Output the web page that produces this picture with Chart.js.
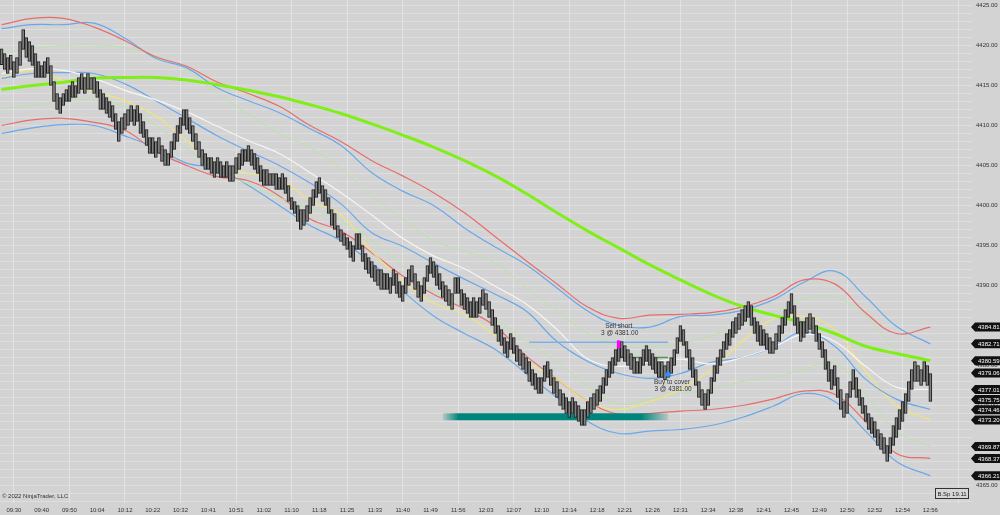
<!DOCTYPE html>
<html>
<head>
<meta charset="utf-8">
<script src="https://cdn.jsdelivr.net/npm/chart.js@4.4.1/dist/chart.umd.min.js"></script>
<style>
    html, body { margin: 0; padding: 0; background: #d3d3d3; }
    #wrap { position: relative; width: 1000px; height: 515px; }
</style>
</head>
<body>
<div id="wrap"><canvas id="myChart"></canvas></div>
<script>
const timeLabels = ['09:30', '09:40', '09:50', '10:04', '10:12', '10:22', '10:32', '10:41', '10:51', '11:02', '11:10', '11:18',
    '11:25', '11:33', '11:40', '11:49', '11:56', '12:03', '12:07', '12:10', '12:14', '12:18', '12:21', '12:26',
    '12:31', '12:34', '12:38', '12:41', '12:45', '12:49', '12:50', '12:52', '12:54', '12:56'];

// tick bars: high / low
const barHigh = [
    4419.6, 4419.0, 4418.5, 4418.8, 4418.0, 4418.5, 4420.5, 4422.0, 4421.0, 4420.5,
    4420.0, 4419.0, 4418.0, 4417.5, 4418.0, 4418.5, 4417.5, 4415.5, 4414.0, 4413.5,
    4414.0, 4414.5, 4415.0, 4415.5, 4415.0, 4416.0, 4416.5, 4416.0, 4416.5, 4416.0,
    4416.0, 4415.5, 4414.5, 4414.0, 4413.5, 4413.0, 4412.5, 4411.5, 4410.5, 4411.0,
    4411.5, 4412.0, 4412.5, 4412.0, 4412.5, 4411.5, 4410.5, 4409.5, 4408.5, 4408.5,
    4408.0, 4408.5, 4407.5, 4407.0, 4406.5, 4408.0, 4409.0, 4410.0, 4411.0, 4412.0,
    4412.0, 4411.0, 4410.0, 4409.0, 4408.0, 4407.0, 4406.5, 4406.0, 4406.0, 4405.5,
    4406.0, 4405.5, 4405.0, 4405.5, 4405.0, 4405.0, 4406.0, 4406.5, 4407.0, 4407.0,
    4407.5, 4407.0, 4406.5, 4406.0, 4405.0, 4404.5, 4404.5, 4404.0, 4404.0, 4404.0,
    4403.5, 4404.0, 4403.5, 4402.5, 4401.0, 4400.5, 4400.0, 4399.5, 4399.5, 4400.0,
    4401.0, 4402.0, 4403.0, 4403.5, 4402.5, 4402.0, 4401.0, 4399.5, 4399.0, 4397.5,
    4397.0, 4396.5, 4396.0, 4395.5, 4395.0, 4396.5, 4396.5, 4395.0, 4394.0, 4393.5,
    4393.0, 4392.5, 4392.0, 4392.0, 4391.5, 4391.5, 4391.0, 4392.0, 4391.5, 4390.5,
    4390.0, 4391.0, 4392.0, 4392.5, 4391.5, 4390.5, 4390.0, 4391.0, 4392.5, 4393.5,
    4393.0, 4392.5, 4391.5, 4390.5, 4390.0, 4389.5, 4389.0, 4391.0, 4391.0, 4389.5,
    4389.0, 4388.5, 4388.0, 4388.5, 4388.0, 4388.5, 4389.5, 4389.0, 4388.0, 4387.0,
    4386.0, 4385.0, 4384.5, 4383.5, 4383.0, 4384.0, 4383.5, 4382.5, 4382.0, 4381.5,
    4381.0, 4380.5, 4379.5, 4379.0, 4378.5, 4378.5, 4380.0, 4380.5, 4379.5, 4378.5,
    4378.0, 4377.0, 4376.5, 4376.0, 4375.5, 4376.0, 4375.5, 4375.0, 4374.5, 4374.5,
    4375.5, 4376.0, 4376.5, 4377.0, 4377.5, 4378.5, 4379.5, 4380.5, 4381.0, 4382.0,
    4382.5, 4383.0, 4382.5, 4382.0, 4381.5, 4381.0, 4380.5, 4381.0, 4382.0, 4382.5,
    4382.0, 4381.5, 4381.0, 4380.5, 4380.5, 4380.0, 4380.5, 4381.0, 4382.0, 4383.5,
    4385.0, 4384.5, 4383.0, 4382.0, 4381.0, 4379.5, 4378.0, 4377.0, 4376.5, 4377.0,
    4378.5, 4380.0, 4381.0, 4382.0, 4383.0, 4384.0, 4384.5, 4385.5, 4386.0, 4386.5,
    4387.0, 4387.5, 4388.0, 4387.5, 4386.0, 4385.5, 4385.0, 4384.5, 4384.0, 4383.5,
    4383.0, 4384.0, 4385.0, 4386.0, 4387.0, 4388.0, 4389.0, 4387.5, 4386.0, 4385.5,
    4385.5, 4386.0, 4386.5, 4386.0, 4385.0, 4384.0, 4383.0, 4382.0, 4380.5, 4379.5,
    4380.0, 4378.5, 4377.0, 4375.5, 4376.5, 4378.0, 4379.5, 4378.5, 4377.0, 4376.0,
    4375.0, 4374.0, 4373.5, 4373.0, 4372.0, 4371.5, 4371.0, 4370.0, 4371.0, 4372.5,
    4373.5, 4374.5, 4375.5, 4376.5, 4378.0, 4379.5, 4380.5, 4380.0, 4379.5, 4380.5,
    4380.0, 4379.0
];
const barLow = [
    4417.6, 4417.0, 4416.5, 4417.0, 4416.0, 4416.5, 4417.5, 4419.5, 4418.5, 4418.0,
    4417.5, 4416.0, 4416.0, 4416.0, 4416.0, 4416.5, 4415.0, 4413.0, 4412.0, 4411.5,
    4412.5, 4413.0, 4413.0, 4413.5, 4413.5, 4414.0, 4414.5, 4414.0, 4414.5, 4414.5,
    4414.0, 4413.5, 4412.0, 4412.0, 4411.5, 4411.0, 4410.5, 4409.5, 4408.0, 4409.0,
    4409.5, 4410.0, 4410.5, 4410.0, 4410.5, 4409.0, 4408.5, 4407.5, 4406.5, 4406.5,
    4406.0, 4406.5, 4405.5, 4405.0, 4405.0, 4406.0, 4407.0, 4408.0, 4409.0, 4410.0,
    4409.5, 4409.0, 4408.0, 4407.0, 4406.0, 4405.0, 4404.5, 4404.5, 4404.0, 4403.5,
    4404.0, 4403.5, 4403.5, 4403.5, 4403.0, 4403.0, 4404.0, 4404.5, 4405.0, 4405.5,
    4405.5, 4405.0, 4404.5, 4404.0, 4403.0, 4402.5, 4402.5, 4402.5, 4402.5, 4402.0,
    4402.0, 4402.0, 4401.5, 4400.5, 4399.5, 4399.0, 4398.0, 4397.0, 4397.5, 4398.0,
    4399.0, 4400.0, 4401.0, 4401.5, 4400.5, 4400.0, 4399.0, 4397.5, 4397.0, 4396.0,
    4395.5, 4395.0, 4394.5, 4393.5, 4393.0, 4394.5, 4394.5, 4393.0, 4392.0, 4391.5,
    4391.0, 4390.5, 4390.0, 4389.5, 4389.5, 4389.5, 4389.0, 4390.0, 4389.0, 4388.5,
    4388.0, 4389.0, 4390.0, 4390.5, 4389.5, 4388.5, 4388.0, 4389.0, 4390.5, 4391.5,
    4391.0, 4390.0, 4389.5, 4388.5, 4388.0, 4387.5, 4387.0, 4389.0, 4389.0, 4387.5,
    4387.0, 4386.5, 4386.0, 4386.0, 4386.0, 4386.5, 4387.5, 4387.0, 4386.0, 4385.0,
    4384.0, 4383.0, 4382.5, 4381.5, 4381.0, 4382.0, 4381.5, 4380.5, 4380.0, 4379.5,
    4379.0, 4378.0, 4377.5, 4377.0, 4376.5, 4376.5, 4378.0, 4378.5, 4377.5, 4376.5,
    4376.0, 4375.0, 4374.5, 4374.0, 4373.5, 4374.0, 4373.5, 4373.0, 4372.5, 4372.5,
    4373.5, 4374.0, 4374.5, 4375.0, 4375.5, 4376.5, 4377.5, 4378.5, 4379.0, 4380.0,
    4380.5, 4381.0, 4380.5, 4380.0, 4379.5, 4379.0, 4379.0, 4379.0, 4380.0, 4380.5,
    4380.0, 4379.5, 4379.0, 4378.5, 4378.5, 4378.2, 4378.5, 4379.0, 4380.0, 4381.5,
    4383.0, 4382.5, 4381.0, 4379.5, 4378.5, 4377.5, 4376.0, 4375.0, 4374.5, 4375.0,
    4376.5, 4378.0, 4379.0, 4380.0, 4381.0, 4382.0, 4382.5, 4383.5, 4384.0, 4384.5,
    4385.0, 4385.5, 4386.0, 4385.0, 4384.0, 4383.0, 4382.5, 4382.5, 4382.0, 4381.5,
    4381.5, 4382.0, 4383.0, 4384.0, 4385.0, 4386.0, 4386.5, 4385.0, 4384.0, 4383.0,
    4383.5, 4384.0, 4384.5, 4384.0, 4383.0, 4382.0, 4381.0, 4379.5, 4378.0, 4377.0,
    4377.5, 4376.0, 4374.5, 4373.5, 4374.0, 4376.0, 4377.0, 4376.0, 4375.0, 4374.0,
    4373.0, 4372.0, 4371.5, 4371.0, 4370.0, 4369.5, 4369.0, 4368.0, 4369.0, 4370.0,
    4371.0, 4372.0, 4373.0, 4374.0, 4375.5, 4377.0, 4378.0, 4378.0, 4377.5, 4378.0,
    4377.5, 4375.5
];

// indicator values, read every 10 bars
const knotIdx = [0, 10, 20, 30, 40, 50, 60, 70, 80, 90, 100, 110, 120, 130, 140, 150, 160, 170, 180, 190,
    200, 210, 220, 230, 240, 250, 260, 270, 280, 290, 301];
const sma = [4414.5, 4415.0, 4415.4, 4415.9, 4416.0, 4416.0, 4415.7, 4415.1, 4414.4, 4413.6, 4412.6, 4411.5, 4410.2, 4408.8, 4407.3, 4405.6,
    4403.7, 4401.5, 4399.1, 4396.8, 4394.7, 4392.6, 4390.7, 4388.9, 4387.4, 4386.3, 4385.3, 4384.0, 4382.4, 4381.5, 4380.6];
const redUpper = [4422.6, 4423.4, 4423.4, 4422.3, 4420.6, 4418.6, 4417.4, 4415.4, 4414.0, 4412.4, 4410.0, 4408.0, 4405.6, 4403.7, 4401.6, 4399.1,
    4396.1, 4393.1, 4390.2, 4387.3, 4385.9, 4386.3, 4386.4, 4386.6, 4387.3, 4388.6, 4390.7, 4390.2, 4386.6, 4384.0, 4384.8];
const blueUpper = [4422.1, 4422.6, 4422.6, 4422.8, 4420.9, 4418.4, 4417.2, 4414.7, 4413.1, 4411.6, 4409.6, 4407.5, 4404.1, 4401.8, 4400.0, 4397.2,
    4394.8, 4392.6, 4389.7, 4386.8, 4385.0, 4384.8, 4386.1, 4386.3, 4386.9, 4388.2, 4390.4, 4391.8, 4388.6, 4384.9, 4382.7];
const greenUpper = [4419.1, 4419.6, 4420.0, 4420.1, 4419.7, 4418.7, 4416.9, 4414.0, 4411.4, 4409.0, 4407.2, 4404.6, 4401.2, 4398.3, 4395.6, 4394.3,
    4392.8, 4389.7, 4386.8, 4384.0, 4382.5, 4382.3, 4382.8, 4383.7, 4385.2, 4386.6, 4388.3, 4388.6, 4386.2, 4381.8, 4379.1];
const whiteMid = [4416.5, 4417.1, 4416.9, 4415.9, 4414.4, 4413.2, 4411.7, 4409.9, 4408.1, 4406.5, 4404.1, 4401.6, 4398.8, 4395.9, 4393.7, 4392.1,
    4389.9, 4387.7, 4384.5, 4380.8, 4379.9, 4380.4, 4380.8, 4380.2, 4381.0, 4382.3, 4383.9, 4383.0, 4379.9, 4377.3, 4377.0];
const blueMid = [4415.9, 4416.5, 4416.6, 4416.5, 4415.2, 4413.1, 4410.9, 4408.7, 4406.8, 4405.0, 4402.8, 4400.2, 4396.6, 4394.9, 4392.8, 4390.8,
    4388.9, 4386.8, 4383.0, 4380.5, 4379.0, 4378.4, 4379.0, 4380.4, 4381.0, 4382.3, 4384.2, 4382.4, 4378.3, 4375.8, 4374.5];
const yellowAvg = [4416.0, 4416.9, 4415.6, 4414.2, 4413.1, 4411.2, 4408.1, 4405.2, 4404.0, 4403.3, 4400.6, 4398.8, 4394.3, 4390.6, 4387.8, 4386.4,
    4383.7, 4380.5, 4378.3, 4375.5, 4374.5, 4375.5, 4377.0, 4379.5, 4383.0, 4385.8, 4386.1, 4384.5, 4379.3, 4375.0, 4373.2];
const greenLower = [4412.1, 4412.5, 4413.1, 4413.2, 4412.4, 4410.0, 4407.1, 4404.3, 4402.7, 4401.0, 4399.6, 4398.1, 4395.6, 4392.4, 4389.3, 4387.7,
    4385.8, 4383.0, 4380.5, 4377.4, 4375.2, 4375.8, 4376.5, 4377.0, 4378.0, 4378.5, 4379.5, 4380.3, 4376.4, 4371.8, 4369.9];
const redLower = [4410.0, 4410.7, 4410.9, 4410.4, 4409.4, 4406.8, 4405.0, 4403.6, 4403.1, 4401.2, 4398.3, 4396.8, 4394.1, 4391.2, 4388.9, 4387.1,
    4384.9, 4381.2, 4378.3, 4375.5, 4373.9, 4374.0, 4374.3, 4374.5, 4375.0, 4375.8, 4376.8, 4376.4, 4373.0, 4369.0, 4368.4];
const blueLower = [4409.0, 4409.7, 4410.1, 4410.0, 4408.7, 4407.2, 4405.3, 4404.6, 4402.5, 4400.0, 4397.5, 4395.6, 4392.8, 4389.3, 4386.2, 4384.0,
    4382.0, 4379.0, 4376.0, 4373.0, 4371.5, 4371.8, 4372.0, 4372.5, 4373.5, 4374.9, 4376.5, 4375.5, 4371.8, 4368.0, 4366.2];

// last values shown on the price axis
const tagValues = [4384.81, 4382.71, 4380.59, 4379.06, 4377.01, 4375.75, 4374.46, 4373.20, 4369.87, 4368.37, 4366.21];

// drawings and trade
const zoneRange = [143, 216];
const zonePrice = 4373.6;
const stopRange = [171, 216];
const stopPrice = 4382.9;
const tradeBars = [200, 216];
const tradePrice = 4381.0;
const sellMark = [4382.2, 4383.1];
const buyMark = 4378.9;
const sellText = ['Sell short', '3 @ 4381.00'];
const buyText = ['Buy to cover', '3 @ 4381.00'];

const slotCount = 315;
const labelStart = 4;
const labelEvery = 9;
const yMin = 4362.81;
const yMax = 4425.69;
const fontFamily = "'Liberation Sans', Arial, sans-serif";

const labels = Array.from({ length: slotCount }, (_, i) =>
    (i >= labelStart && (i - labelStart) % labelEvery === 0) ? (timeLabels[(i - labelStart) / labelEvery] || '') : '');

const fromKnots = vals => {
    const arr = Array(slotCount).fill(null);
    knotIdx.forEach((k, j) => { arr[k] = vals[j]; });
    return arr;
};
const atBars = (idxs, val) => {
    const arr = Array(slotCount).fill(null);
    idxs.forEach(k => { arr[k] = val; });
    return arr;
};

const bandLine = (vals, color, width) => ({
    type: 'line',
    data: fromKnots(vals),
    borderColor: color,
    borderWidth: width,
    pointRadius: 0,
    pointHoverRadius: 0,
    tension: 0.4,
    spanGaps: true,
    order: 3
});

const overlayPlugin = {
    id: 'overlay',
    afterDatasetsDraw(chart) {
        const { ctx, scales: { x, y } } = chart;
        ctx.save();
        ctx.font = `6.5px ${fontFamily}`;
        ctx.fillStyle = '#333';
        ctx.textAlign = 'center';
        ctx.textBaseline = 'middle';
        const sx = x.getPixelForValue(tradeBars[0]);
        const sy = y.getPixelForValue(sellMark[1]);
        ctx.fillText(sellText[0], sx, sy - 14);
        ctx.fillText(sellText[1], sx + 1, sy - 7);
        const bx = x.getPixelForValue(tradeBars[1]);
        const by = y.getPixelForValue(buyMark);
        ctx.fillText(buyText[0], bx + 4, by + 8);
        ctx.fillText(buyText[1], bx + 5, by + 15);
        ctx.restore();
    },
    afterDraw(chart) {
        const { ctx, chartArea, scales: { y } } = chart;
        ctx.save();
        // price tags
        let prevY = -100;
        tagValues.forEach(v => {
            let ty = y.getPixelForValue(v);
            if (ty < prevY + 10) ty = prevY + 10;
            prevY = ty;
            const left = chartArea.right;
            ctx.fillStyle = '#111';
            ctx.beginPath();
            ctx.moveTo(left - 1, ty);
            ctx.lineTo(left + 3, ty - 4.5);
            ctx.lineTo(chart.width, ty - 4.5);
            ctx.lineTo(chart.width, ty + 4.5);
            ctx.lineTo(left + 3, ty + 4.5);
            ctx.closePath();
            ctx.fill();
            ctx.fillStyle = '#fff';
            ctx.font = `6px ${fontFamily}`;
            ctx.textAlign = 'left';
            ctx.textBaseline = 'middle';
            ctx.fillText(v.toFixed(2), left + 6, ty + 0.5);
        });
        // copyright
        ctx.fillStyle = '#333';
        ctx.font = `6px ${fontFamily}`;
        ctx.textAlign = 'left';
        ctx.textBaseline = 'middle';
        ctx.fillText('\u00a9 2022 NinjaTrader, LLC', chartArea.left + 2, chartArea.bottom - 7);
        // bar size box
        const bw = 33, bh = 10;
        const bxl = chartArea.right - 37, byt = chartArea.bottom - 15;
        ctx.fillStyle = '#d6d6d6';
        ctx.fillRect(bxl, byt, bw, bh);
        ctx.strokeStyle = '#333';
        ctx.lineWidth = 1;
        ctx.strokeRect(bxl + 0.5, byt + 0.5, bw, bh);
        ctx.fillStyle = '#222';
        ctx.textAlign = 'center';
        ctx.fillText('B.Sp 19.11', bxl + bw / 2 + 0.5, byt + bh / 2 + 1);
        ctx.restore();
    }
};

const ctx = document.getElementById('myChart').getContext('2d');
const myChart = new Chart(ctx, {
    type: 'bar',
    data: {
        labels: labels,
        datasets: [
            {
                type: 'bar',
                data: barHigh.map((h, i) => [barLow[i], h]),
                backgroundColor: '#808080',
                borderColor: '#1c1c1c',
                borderWidth: 1,
                borderSkipped: false,
                barThickness: 3,
                grouped: false,
                order: 0
            },
            {
                type: 'bar',
                data: (() => { const a = Array(slotCount).fill(null); a[tradeBars[0]] = sellMark; return a; })(),
                backgroundColor: '#ff00ff',
                borderWidth: 0,
                barThickness: 3,
                grouped: false,
                order: -1
            },
            {
                type: 'line',
                data: atBars([tradeBars[1]], buyMark),
                showLine: false,
                pointStyle: 'triangle',
                pointRadius: 3.5,
                pointBackgroundColor: '#2f8fff',
                pointBorderColor: '#2f8fff',
                order: -1
            },
            {
                type: 'line',
                data: atBars(tradeBars, tradePrice),
                borderColor: '#4f9a4f',
                borderWidth: 1.5,
                pointRadius: 0,
                spanGaps: true,
                order: 1
            },
            {
                type: 'line',
                data: atBars(stopRange, stopPrice),
                borderColor: 'rgb(125,175,230)',
                borderWidth: 1.5,
                pointRadius: 0,
                spanGaps: true,
                order: 1
            },
            {
                type: 'line',
                data: atBars(zoneRange, zonePrice),
                borderWidth: 7,
                borderCapStyle: 'butt',
                pointRadius: 0,
                spanGaps: true,
                order: 1,
                borderColor: context => {
                    const chart = context.chart;
                    if (!chart.chartArea || !chart.scales.x) return '#00857c';
                    const x0 = chart.scales.x.getPixelForValue(zoneRange[0]);
                    const x1 = chart.scales.x.getPixelForValue(zoneRange[1]);
                    const g = chart.ctx.createLinearGradient(x0, 0, x1, 0);
                    g.addColorStop(0, 'rgba(0,133,124,0.15)');
                    g.addColorStop(0.07, 'rgba(0,133,124,1)');
                    g.addColorStop(0.88, 'rgba(0,133,124,1)');
                    g.addColorStop(1, 'rgba(0,133,124,0.15)');
                    return g;
                }
            },
            Object.assign(bandLine(sma, 'rgb(128,238,24)', 3), { order: 2 }),
            bandLine(redUpper, 'rgb(232,108,108)', 1.2),
            bandLine(blueUpper, 'rgb(105,168,235)', 1.2),
            bandLine(greenUpper, 'rgb(184,228,165)', 1),
            bandLine(whiteMid, 'rgb(245,245,245)', 1.2),
            bandLine(blueMid, 'rgb(105,168,235)', 1.2),
            bandLine(yellowAvg, 'rgb(240,228,120)', 1.2),
            bandLine(greenLower, 'rgb(184,228,165)', 1),
            bandLine(redLower, 'rgb(232,108,108)', 1.2),
            bandLine(blueLower, 'rgb(105,168,235)', 1.2)
        ]
    },
    options: {
        responsive: true,
        maintainAspectRatio: false,
        animation: false,
        layout: { padding: 0, autoPadding: false },
        plugins: {
            legend: { display: false },
            tooltip: { enabled: false }
        },
        scales: {
            x: {
                type: 'category',
                offset: true,
                afterFit: axis => { axis.height = 12; axis.paddingLeft = 0; axis.paddingRight = 0; },
                border: { display: false },
                grid: {
                    offset: false,
                    drawTicks: false,
                    color: c => ((c.index - labelStart) % (labelEvery * 2) === 0 ? 'rgba(255,255,255,0.35)' : 'rgba(0,0,0,0)')
                },
                ticks: {
                    autoSkip: false,
                    maxRotation: 0,
                    minRotation: 0,
                    padding: 4,
                    color: '#333',
                    font: { size: 6, family: fontFamily },
                    callback: (v, i) => labels[i]
                }
            },
            y: {
                position: 'right',
                min: yMin,
                max: yMax,
                afterBuildTicks: axis => {
                    const t = [];
                    for (let v = Math.ceil(yMin); v <= Math.floor(yMax); v++) t.push({ value: v });
                    axis.ticks = t;
                },
                afterFit: axis => { axis.width = 28; axis.paddingTop = 0; axis.paddingBottom = 0; },
                border: { display: false },
                grid: { drawTicks: false, color: 'rgba(255,255,255,0.25)' },
                ticks: {
                    autoSkip: false,
                    padding: 4,
                    color: '#333',
                    font: { size: 6, family: fontFamily },
                    callback: v => (v % 5 === 0 ? v.toFixed(2) : '')
                }
            }
        }
    },
    plugins: [overlayPlugin]
});
</script>
</body>
</html>
